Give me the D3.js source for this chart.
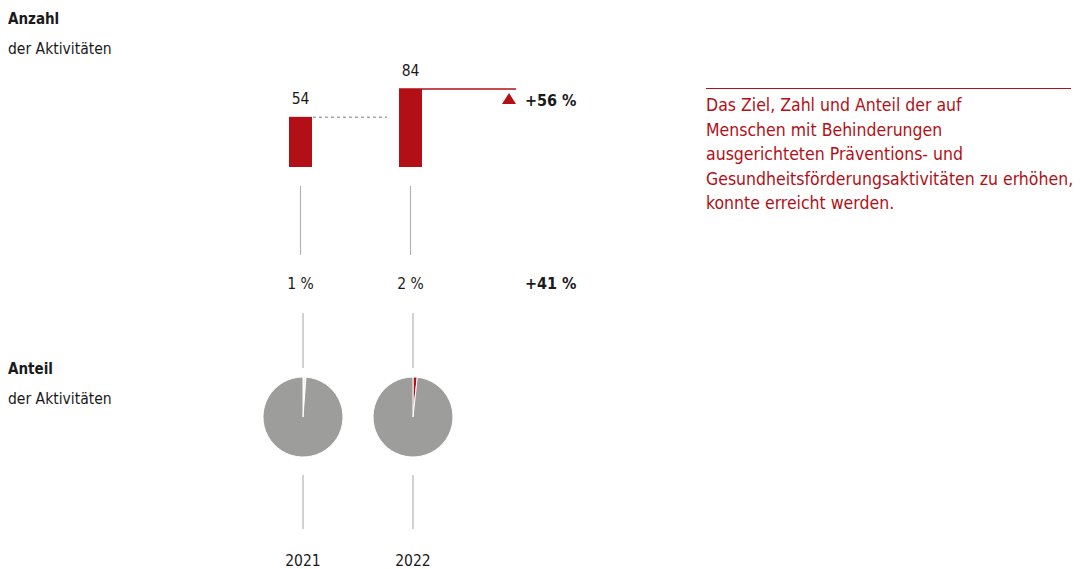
<!DOCTYPE html>
<html><head><meta charset="utf-8">
<script src="https://cdn.jsdelivr.net/npm/d3@7"></script>
<style>
body{margin:0;background:#fff;}
text{font-family:"Liberation Sans Narrow","DejaVu Sans Condensed","Roboto",sans-serif;}
</style></head><body>
<svg id="c" width="1087" height="569"></svg>
<script>
const years = ["2021", "2022"];
const counts = [54, 84];
const countLabels = ["54", "84"];
const shares = [1.2, 1.7];            // percent of all activities
const shareLabels = ["1 %", "2 %"];
const sliceColors = ["#f2f2f2", "#b20f16"];
const countChange = "+56 %";
const shareChange = "+41 %";
const note = ["Das Ziel, Zahl und Anteil der auf", "Menschen mit Behinderungen",
  "ausgerichteten Präventions- und", "Gesundheitsförderungsaktivitäten zu erhöhen,",
  "konnte erreicht werden."];

const RED = "#b20f16", GRAY = "#9d9d9c", LINE = "#b4b4b4", TXT = "#1a1a1a";
const svg = d3.select("#c");

const x = d3.scalePoint().domain(years).range([300.5, 410.5]);
const cx = d => x(d);
const y = d3.scaleLinear().domain([0, d3.max(counts)]).range([167, 89]);

// left headings
function heading(yb, bold, sub) {
  svg.append("text").attr("x", 8).attr("y", yb).attr("font-size", 15).attr("font-weight", "bold").attr("fill", TXT).text(bold);
  svg.append("text").attr("x", 8).attr("y", yb + 30).attr("font-size", 15.5).attr("fill", TXT).text(sub);
}
heading(24, "Anzahl", "der Aktivitäten");
heading(374, "Anteil", "der Aktivitäten");

// bars
const barW = 23;
svg.selectAll("rect.bar").data(counts).join("rect").attr("class", "bar")
  .attr("x", (d, i) => cx(years[i]) - barW / 2).attr("width", barW)
  .attr("y", d => y(d)).attr("height", d => y(0) - y(d)).attr("fill", RED);
svg.selectAll("text.cl").data(countLabels).join("text").attr("class", "cl")
  .attr("x", (d, i) => cx(years[i])).attr("y", (d, i) => y(counts[i]) - 13)
  .attr("text-anchor", "middle").attr("font-size", 15.5).attr("fill", TXT).text(d => d);

// dashed reference line at previous value
svg.append("line").attr("x1", cx(years[0]) + barW / 2 + 1).attr("x2", cx(years[1]) - barW / 2 - 12)
  .attr("y1", y(counts[0]) + 0.5).attr("y2", y(counts[0]) + 0.5)
  .attr("stroke", "#a8a8a8").attr("stroke-width", 1.5).attr("stroke-dasharray", "3,3");
// red line at new value
const redEnd = 516;
svg.append("line").attr("x1", cx(years[1]) - barW / 2).attr("x2", redEnd)
  .attr("y1", y(counts[1])).attr("y2", y(counts[1])).attr("stroke", RED).attr("stroke-width", 1.6);
// triangle + change
const ty = y(counts[1]);
svg.append("path").attr("d", `M${redEnd - 7},${ty + 4} L${redEnd},${ty + 15} L${redEnd - 14},${ty + 15} Z`).attr("fill", RED);
svg.append("text").attr("x", 525).attr("y", ty + 17).attr("font-size", 16).attr("font-weight", "bold").attr("fill", TXT).text(countChange);

// connector lines
const vline = (xx, a, b) => svg.append("line").attr("x1", xx).attr("x2", xx).attr("y1", a).attr("y2", b).attr("stroke", LINE).attr("stroke-width", 1.2);
years.forEach(yr => vline(cx(yr), 186, 255));
years.forEach(yr => vline(cx(yr) + 2.5, 313, 368));
years.forEach(yr => vline(cx(yr) + 2.5, 475, 529));

// share labels
svg.selectAll("text.sl").data(shareLabels).join("text").attr("class", "sl")
  .attr("x", (d, i) => cx(years[i])).attr("y", 289).attr("text-anchor", "middle")
  .attr("font-size", 15.5).attr("fill", TXT).text(d => d);
svg.append("text").attr("x", 525).attr("y", 289).attr("font-size", 16).attr("font-weight", "bold").attr("fill", TXT).text(shareChange);

// pies
const pie = d3.pie().sort(null).value(d => d);
const arc = d3.arc().innerRadius(0).outerRadius(40);
years.forEach((yr, i) => {
  const g = svg.append("g").attr("transform", `translate(${cx(yr) + 2.5},417)`);
  g.selectAll("path").data(pie([shares[i], 100 - shares[i]])).join("path")
    .attr("d", arc).attr("fill", (d, j) => j === 0 ? sliceColors[i] : GRAY)
    .attr("stroke", "#fff").attr("stroke-width", 1);
});

// year labels
svg.selectAll("text.yr").data(years).join("text").attr("class", "yr")
  .attr("x", d => cx(d) + 2.5).attr("y", 566).attr("text-anchor", "middle")
  .attr("font-size", 15.5).attr("fill", TXT).text(d => d);

// note
svg.append("line").attr("x1", 706).attr("x2", 1071).attr("y1", 88.5).attr("y2", 88.5).attr("stroke", RED).attr("stroke-width", 1);
svg.selectAll("text.note").data(note).join("text").attr("class", "note")
  .attr("x", 706).attr("y", (d, i) => 111 + i * 24.5).attr("font-size", 17.5).attr("fill", RED).text(d => d);
</script></body></html>
